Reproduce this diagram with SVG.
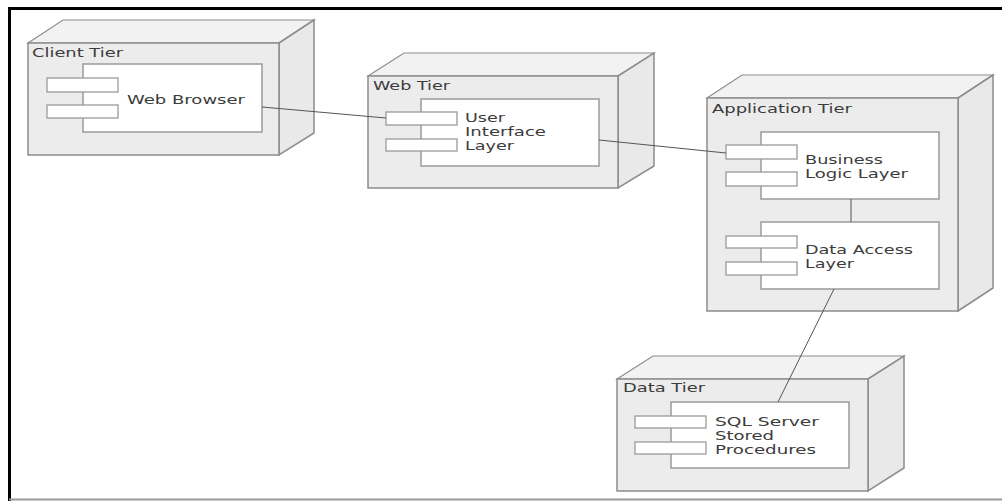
<svg xmlns="http://www.w3.org/2000/svg" width="1002" height="501" viewBox="0 0 1002 501">
<style>
.front{fill:#ececec;stroke:#8c8c8c;stroke-width:1.5}
.top{fill:#f2f2f2;stroke:#8c8c8c;stroke-width:1.2}
.side{fill:#e9e9e9;stroke:#8c8c8c;stroke-width:1.5}
.comp{fill:#ffffff;stroke:#9a9a9a;stroke-width:1.5}
.tab{fill:#ffffff;stroke:#9a9a9a;stroke-width:1.3}
.lbl{font-family:"DejaVu Sans",Verdana,sans-serif;font-size:12px;fill:#3c3c3c}
.conn{stroke:#555;stroke-width:1;fill:none}
</style>
<rect x="0" y="0" width="1002" height="501" fill="#ffffff"/>
<line x1="8" y1="8.5" x2="1002" y2="8.5" stroke="#000" stroke-width="3"/>
<line x1="9.5" y1="8" x2="9.5" y2="501" stroke="#000" stroke-width="3"/>
<line x1="9" y1="499.5" x2="1002" y2="499.5" stroke="#999" stroke-width="2"/>

<g id="client-tier">
<polygon class="top" points="28,43 63,20 314,20 279,43"/>
<polygon class="side" points="279,43 314,20 314,133 279,155"/>
<rect class="front" x="28" y="43" width="251" height="112"/>
<text class="lbl" x="32" y="57" textLength="91" lengthAdjust="spacingAndGlyphs">Client Tier</text>
<rect class="comp" x="83" y="64" width="179" height="68"/>
<rect class="tab" x="47" y="78" width="71" height="14"/>
<rect class="tab" x="47" y="105" width="71" height="13"/>
<text class="lbl" x="127" y="104" textLength="118" lengthAdjust="spacingAndGlyphs">Web Browser</text>
</g>

<g id="web-tier">
<polygon class="top" points="368,76 404,53 654,53 618,76"/>
<polygon class="side" points="618,76 654,53 654,166 618,188"/>
<rect class="front" x="368" y="76" width="250" height="112"/>
<text class="lbl" x="373" y="90" textLength="77" lengthAdjust="spacingAndGlyphs">Web Tier</text>
<rect class="comp" x="421" y="99" width="178" height="67"/>
<rect class="tab" x="386" y="112" width="71" height="13"/>
<rect class="tab" x="386" y="139" width="71" height="12"/>
<text class="lbl" x="465" y="122" textLength="40" lengthAdjust="spacingAndGlyphs">User</text>
<text class="lbl" x="465" y="136" textLength="81" lengthAdjust="spacingAndGlyphs">Interface</text>
<text class="lbl" x="465" y="150" textLength="49" lengthAdjust="spacingAndGlyphs">Layer</text>
</g>

<g id="application-tier">
<polygon class="top" points="707,98 742,75 993,75 958,98"/>
<polygon class="side" points="958,98 993,75 993,288 958,311"/>
<rect class="front" x="707" y="98" width="251" height="213"/>
<text class="lbl" x="712" y="113" textLength="140" lengthAdjust="spacingAndGlyphs">Application Tier</text>
<rect class="comp" x="761" y="132" width="178" height="67"/>
<rect class="tab" x="726" y="145" width="71" height="14"/>
<rect class="tab" x="726" y="172" width="71" height="14"/>
<text class="lbl" x="805" y="164" textLength="78" lengthAdjust="spacingAndGlyphs">Business</text>
<text class="lbl" x="805" y="178" textLength="103" lengthAdjust="spacingAndGlyphs">Logic Layer</text>
<rect class="comp" x="761" y="222" width="178" height="67"/>
<rect class="tab" x="726" y="236" width="71" height="12"/>
<rect class="tab" x="726" y="262" width="71" height="13"/>
<text class="lbl" x="805" y="254" textLength="108" lengthAdjust="spacingAndGlyphs">Data Access</text>
<text class="lbl" x="805" y="268" textLength="49" lengthAdjust="spacingAndGlyphs">Layer</text>
</g>

<g id="data-tier">
<polygon class="top" points="617,379 653,356 904,356 868,379"/>
<polygon class="side" points="868,379 904,356 904,468 868,491"/>
<rect class="front" x="617" y="379" width="251" height="112"/>
<text class="lbl" x="623" y="392" textLength="82" lengthAdjust="spacingAndGlyphs">Data Tier</text>
<rect class="comp" x="671" y="402" width="178" height="66"/>
<rect class="tab" x="635" y="416" width="71" height="12"/>
<rect class="tab" x="635" y="442" width="71" height="12"/>
<text class="lbl" x="715" y="426" textLength="104" lengthAdjust="spacingAndGlyphs">SQL Server</text>
<text class="lbl" x="715" y="440" textLength="59" lengthAdjust="spacingAndGlyphs">Stored</text>
<text class="lbl" x="715" y="454" textLength="101" lengthAdjust="spacingAndGlyphs">Procedures</text>
</g>

<g id="connectors">
<line class="conn" x1="262" y1="107" x2="386" y2="118"/>
<line class="conn" x1="599" y1="140" x2="726" y2="153"/>
<line class="conn" x1="851" y1="199" x2="851" y2="222"/>
<line class="conn" x1="834" y1="289" x2="778" y2="402"/>
</g>
</svg>
